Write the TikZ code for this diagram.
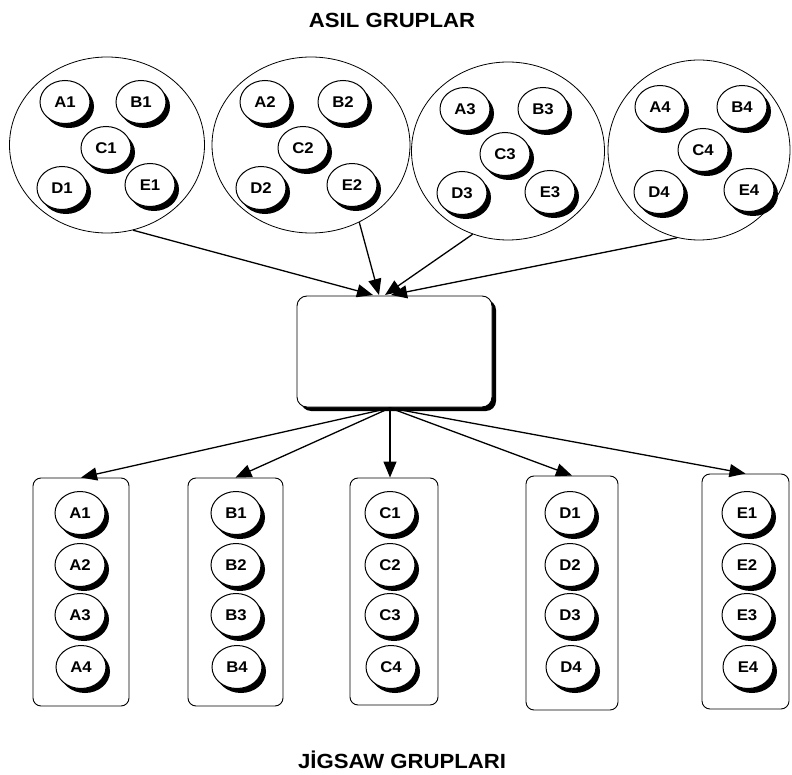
\documentclass[tikz,border=0pt]{standalone}
\usepackage{fontspec}
\setmainfont{Liberation Sans}
\newfontfamily\widesans[FakeStretch=1.08]{Liberation Sans}
\usetikzlibrary{shapes.geometric,shadows,arrows.meta}
\begin{document}
\begin{tikzpicture}[x=1pt,y=-1pt,
  small/.style={ellipse,draw,fill=white,line width=1pt,minimum width=50pt,minimum height=43pt,inner sep=0pt,
    font=\widesans\fontsize{15.5}{15.5}\selectfont\bfseries,
    drop shadow={shadow xshift=4pt,shadow yshift=-4.5pt,fill=black,opacity=1}},
  big/.style={ellipse,draw,line width=0.8pt,inner sep=0pt},
  colbox/.style={draw,rounded corners=8pt,line width=0.9pt,inner sep=0pt},
  midbox/.style={draw,fill=white,rounded corners=10pt,line width=0.9pt,inner sep=0pt,
    minimum width=195pt,minimum height=111pt,
    drop shadow={shadow xshift=4pt,shadow yshift=-4pt,fill=black,opacity=1}},
  arr/.style={-{Triangle[length=16pt,width=13pt]},line width=1.3pt},
  title/.style={font=\widesans\fontsize{20.5}{20.5}\selectfont\bfseries}]
\useasboundingbox (0,0) rectangle (792,775);

\node[title] (t1) at (392,20) {ASIL GRUPLAR};
\node[title] (t2) at (402,760) {JİGSAW GRUPLARI};

% big circles
\node[big,minimum width=195pt,minimum height=176pt] (G1) at (107,145) {};
\node[big,minimum width=198pt,minimum height=176pt] (G2) at (311,145) {};
\node[big,minimum width=193pt,minimum height=178pt] (G3) at (508,151) {};
\node[big,minimum width=182pt,minimum height=180pt] (G4) at (699,150) {};

% small circles in groups
\node[small] (a1) at (65,102) {A1};
\node[small] (b1) at (141,102) {B1};
\node[small] (c1) at (106,148) {C1};
\node[small] (d1) at (62,188) {D1};
\node[small] (e1) at (150,185) {E1};

\node[small] (a2) at (265,102) {A2};
\node[small] (b2) at (343,102) {B2};
\node[small] (c2) at (303,148) {C2};
\node[small] (d2) at (261,188) {D2};
\node[small] (e2) at (352,185) {E2};

\node[small] (a3) at (465,109) {A3};
\node[small] (b3) at (543,109) {B3};
\node[small] (c3) at (505,154) {C3};
\node[small] (d3) at (462,193) {D3};
\node[small] (e3) at (550,192) {E3};

\node[small] (a4) at (660,107) {A4};
\node[small] (b4) at (742,107) {B4};
\node[small] (c4) at (703,150) {C4};
\node[small] (d4) at (659,192) {D4};
\node[small] (e4) at (749,190) {E4};

% middle box
\node[midbox] (M) at (394.5,351.5) {};

% column boxes
\node[colbox,minimum width=96pt,minimum height=228pt] (CA) at (81,592) {};
\node[colbox,minimum width=95pt,minimum height=228pt] (CB) at (235.5,592) {};
\node[colbox,minimum width=88pt,minimum height=227pt] (CC) at (394,591.5) {};
\node[colbox,minimum width=92pt,minimum height=234pt] (CD) at (572,593) {};
\node[colbox,minimum width=87pt,minimum height=235pt] (CE) at (745.5,591.5) {};

\foreach \l/\x in {A/80,B/236,C/390,D/570,E/747}{
  \node[small] (\l1) at (\x,513) {\l1};
  \node[small] (\l2) at (\x,565) {\l2};
  \node[small] (\l3) at (\x,615) {\l3};
  \node[small] (\l4) at (\x+1,667) {\l4};
}

% arrows into middle box
\coordinate (m1) at (373,295);
\coordinate (m2) at (379,295);
\coordinate (m3) at (385,295);
\coordinate (m4) at (391,295);
\draw[arr] (G1.-73) -- (m1);
\draw[arr] (G2.-58) -- (m2);
\draw[arr] (G3.-113) -- (m3);
\draw[arr] (G4.-104) -- (m4);

% arrows out of middle box
\coordinate (ms) at (390,408);
\draw[arr] (ms) -- (CA.north);
\draw[arr] (ms) -- (CB.north);
\draw[arr] (ms) -- (CC.north -| ms);
\draw[arr] (ms) -- (CD.north);
\draw[arr] (ms) -- (CE.north);
\end{tikzpicture}
\end{document}
